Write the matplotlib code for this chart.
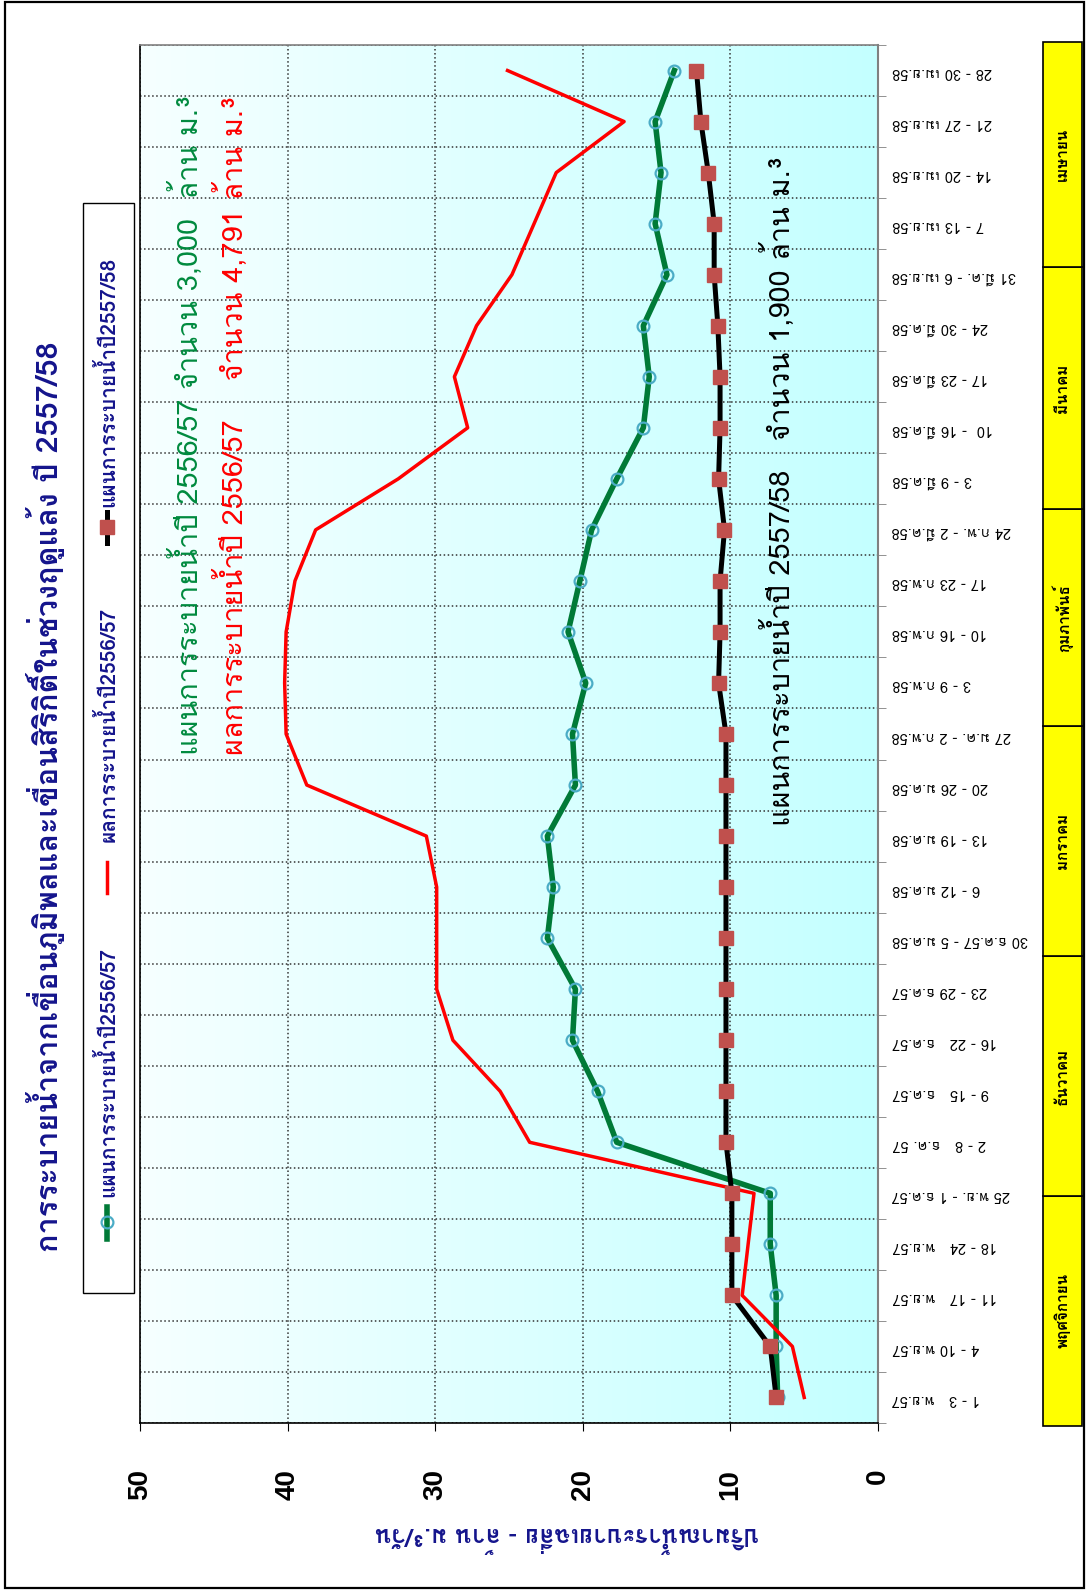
import matplotlib
matplotlib.use("Agg")
import matplotlib.pyplot as plt                      # noqa: E402
import numpy as np                                   # noqa: E402
from matplotlib import font_manager                  # noqa: E402
from matplotlib.ft2font import FT2Font               # noqa: E402
from matplotlib.lines import Line2D                  # noqa: E402
from matplotlib.patches import Rectangle             # noqa: E402
from matplotlib.colors import LinearSegmentedColormap  # noqa: E402
from matplotlib.transforms import blended_transform_factory  # noqa: E402

# ---- data (weekly mean release, million m3/day) ----
weeks = ["1 - 3   พ.ย.57", "4 - 10 พ.ย.57", "11 - 17   พ.ย.57", "18 - 24   พ.ย.57",
         "25 พ.ย. - 1 ธ.ค.57", "2 - 8   ธ.ค. 57", "9 - 15   ธ.ค.57", "16 - 22   ธ.ค.57",
         "23 - 29 ธ.ค.57", "30 ธ.ค.57 - 5 ม.ค.58", "6 - 12 ม.ค.58", "13 - 19 ม.ค.58",
         "20 - 26 ม.ค.58", "27 ม.ค. - 2 ก.พ.58", "3 - 9 ก.พ.58", "10 - 16 ก.พ.58",
         "17 - 23 ก.พ.58", "24 ก.พ. - 2 มี.ค.58", "3 - 9 มี.ค.58", "10  - 16 มี.ค.58",
         "17 - 23 มี.ค.58", "24 - 30 มี.ค.58", "31 มี.ค. - 6 เม.ย.58", "7 - 13 เม.ย.58",
         "14 - 20 เม.ย.58", "21 - 27 เม.ย.58", "28 - 30 เม.ย.58"]
plan_5657 = [6.8, 6.9, 6.9, 7.3, 7.3, 17.7, 19.0, 20.7, 20.5, 22.4, 22.0, 22.4, 20.5, 20.7,
             19.8, 21.0, 20.2, 19.4, 17.7, 15.9, 15.5, 15.9, 14.3, 15.1, 14.7, 15.1, 13.8]
result_5657 = [5.0, 5.8, 9.2, 8.8, 8.4, 23.6, 25.6, 28.8, 29.9, 29.9, 29.9, 30.6, 38.7, 40.1,
               40.2, 40.1, 39.5, 38.1, 32.5, 27.8, 28.7, 27.2, 24.8, 23.3, 21.8, 17.2, 25.1]
plan_5758 = [6.9, 7.3, 9.9, 9.9, 9.9, 10.3, 10.3, 10.3, 10.3, 10.3, 10.3, 10.3, 10.3, 10.3,
             10.8, 10.7, 10.7, 10.4, 10.8, 10.7, 10.7, 10.85, 11.1, 11.1, 11.5, 12.0, 12.3]
months = ["พฤศจิกายน", "ธันวาคม", "มกราคม", "กุมภาพันธ์", "มีนาคม", "เมษายน"]
month_edges = [-0.55, 3.95, 8.65, 13.15, 17.4, 22.15, 26.55]   # in week-index units


def find_thai_font():
    for entry in font_manager.fontManager.ttflist:
        try:
            if 0x0E01 in FT2Font(entry.fname).get_charmap():
                return entry.name
        except Exception:
            continue
    return None


THAI = find_thai_font()
FAMILY = ([THAI] if THAI else []) + ["Liberation Sans", "DejaVu Sans"]
plt.rcParams["font.family"] = FAMILY

W, H = 1087, 1590
NAVY = "#14148C"


def px(x, y):
    return x / W, 1 - y / H


fig = plt.figure(figsize=(W / 100, H / 100), dpi=100)
ax = fig.add_axes([140 / W, 1 - 1423 / H, (878 - 140) / W, (1423 - 45) / H])

# background gradient (cyan at value 0 -> almost white at 50)
cmap = LinearSegmentedColormap.from_list("bg", ["#C4FFFF", "#F6FFFF"])
ax.imshow(np.linspace(0, 1, 256)[None, :], extent=(0, 50, -0.5, 26.5), aspect="auto",
          cmap=cmap, zorder=-1)

idx = np.arange(len(weeks))
ax.plot(plan_5657, idx, color="#007A37", lw=4, zorder=3,
        marker="o", ms=8.5, mfc="none", mec="#4BACC6", mew=1.6)
ax.plot(result_5657, idx, color="#FF0000", lw=2.5, zorder=4)
ax.plot(plan_5758, idx, color="black", lw=3.6, zorder=5,
        marker="s", ms=10, mfc="#C0504D", mec="#C0504D")

ax.set_xlim(50, 0)
ax.set_ylim(-0.5, 26.5)

ax.set_xticks(range(0, 51, 10))
ax.set_xticklabels([str(v) for v in range(0, 51, 10)], rotation=90, fontsize=20,
                   fontweight="bold", family=["Liberation Sans", "DejaVu Sans"])
ax.tick_params(axis="x", direction="out", length=6, pad=27, colors="black")

ax.yaxis.tick_right()
ax.set_yticks(idx)
ax.set_yticklabels(weeks, rotation=180, fontsize=10.5)
ax.set_yticks(np.arange(-0.5, 27, 1), minor=True)
ax.tick_params(axis="y", which="major", length=0, pad=10)
ax.tick_params(axis="y", which="minor", direction="out", length=6, color="#808080",
               right=True, left=False)

ax.set_axisbelow(True)
ax.grid(which="major", axis="x", ls=":", color="#333333", lw=1.1)
ax.grid(which="minor", axis="y", ls=":", color="#333333", lw=1.1)
for side, col in (("left", "black"), ("bottom", "black"), ("top", "#808080"),
                  ("right", "#808080")):
    ax.spines[side].set_color(col)
    ax.spines[side].set_linewidth(1.5 if side == "right" else 1.2)

# annotation texts inside the plot
fig.text(*px(186, 755), "แผนการระบายน้ำปี 2556/57 จำนวน 3,000  ล้าน ม.³", rotation=90,
         ha="center", va="bottom", fontsize=20.8, color="#008A3E")
fig.text(*px(231, 755), "ผลการระบายน้ำปี 2556/57    จำนวน 4,791 ล้าน ม.³", rotation=90,
         ha="center", va="bottom", fontsize=20.8, color="#FF0000")
fig.text(*px(778, 826), "แผนการระบายน้ำปี 2557/58   จำนวน 1,900 ล้าน ม.³", rotation=90,
         ha="center", va="bottom", fontsize=20.8, color="black")

# title and axis label
fig.text(*px(46, 1252), "การระบายน้ำจากเขื่อนภูมิพลและเขื่อนสิริกิติ์ในช่วงฤดูแล้ง ปี 2557/58",
         rotation=90, ha="center", va="bottom", fontsize=22, fontweight="bold", color=NAVY)
fig.text(*px(567, 1535), "ปริมาณน้ำระบายเฉลี่ย - ล้าน ม.³/วัน", rotation=180,
         ha="center", va="center", fontsize=17.5, fontweight="bold", color=NAVY)

# legend (drawn by hand because it is rotated)
fig.add_artist(Rectangle(px(83, 1293), 51 / W, (1293 - 203) / H, transform=fig.transFigure,
                         facecolor="white", edgecolor="black", lw=1))
lx = px(107, 0)[0]
fig.add_artist(Line2D([lx, lx], [px(0, 1239)[1], px(0, 1207)[1]], transform=fig.transFigure,
                      color="#007A37", lw=4))
fig.add_artist(Line2D([lx], [px(0, 1222)[1]], transform=fig.transFigure, marker="o", ms=8.5,
                      mfc="none", mec="#4BACC6", mew=1.6))
fig.add_artist(Line2D([lx, lx], [px(0, 893)[1], px(0, 862)[1]], transform=fig.transFigure,
                      color="#FF0000", lw=2.5))
fig.add_artist(Line2D([lx, lx], [px(0, 543)[1], px(0, 512)[1]], transform=fig.transFigure,
                      color="black", lw=3.6))
fig.add_artist(Line2D([lx], [px(0, 527)[1]], transform=fig.transFigure, marker="s", ms=10,
                      mfc="#C0504D", mec="#C0504D"))
for y0, label in ((1197, "แผนการระบายน้ำปี2556/57"), (842, "ผลการระบายน้ำปี2556/57"),
                  (507, "แผนการระบายน้ำปี2557/58")):
    fig.text(lx, px(0, y0)[1], label, rotation=90, ha="center", va="bottom",
             fontsize=15, fontweight="bold", color=NAVY)

# month boxes on the right, aligned to the week axis
trans = blended_transform_factory(fig.transFigure, ax.transData)
bx0, bx1 = 1043 / W, 1082 / W
for name, lo, hi in zip(months, month_edges[:-1], month_edges[1:]):
    rect = Rectangle((bx0, lo), bx1 - bx0, hi - lo, transform=trans, facecolor="#FFFF00",
                     edgecolor="black", lw=1.2, clip_on=False)
    fig.add_artist(rect)
    fig.text((bx0 + bx1) / 2, (lo + hi) / 2, name, transform=trans, rotation=90,
             ha="center", va="center", fontsize=11, fontweight="bold")

# outer frame
fig.add_artist(Rectangle(px(5, 1588), 1079 / W, 1586 / H, transform=fig.transFigure,
                         facecolor="none", edgecolor="black", lw=1.6))

fig.savefig("out.png", dpi=100)
